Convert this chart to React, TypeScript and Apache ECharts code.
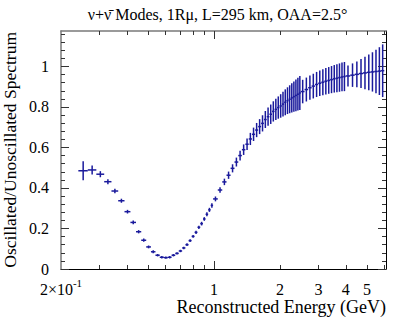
import React, { useEffect, useRef } from "react";
import * as echarts from "echarts";

// Bin edges in reconstructed energy (GeV)
const binEdges = [
  0.24, 0.265, 0.29, 0.315, 0.34, 0.365, 0.39, 0.415, 0.44, 0.465, 0.49, 0.515, 0.54, 0.565, 0.59, 0.615,
  0.64, 0.665, 0.69, 0.715, 0.74, 0.765, 0.79, 0.815, 0.84, 0.865, 0.89, 0.915, 0.94, 0.965, 0.99,
  1.04, 1.09, 1.14, 1.19, 1.24, 1.29, 1.34, 1.39, 1.44, 1.49, 1.54, 1.59, 1.64, 1.69, 1.74, 1.79, 1.84,
  1.89, 1.94, 1.99, 2.04, 2.09, 2.14, 2.19, 2.24, 2.29, 2.34, 2.39, 2.44, 2.49,
  2.59, 2.69, 2.79, 2.89, 2.99, 3.09, 3.19, 3.29, 3.39, 3.49, 3.59, 3.69, 3.79, 3.89, 3.99,
  4.19, 4.39, 4.59, 4.79, 4.99, 5.19, 5.39, 5.59, 5.79, 5.99,
];

// Oscillated / unoscillated ratio per bin
const ratioValues = [
  0.485, 0.489, 0.468, 0.431, 0.385, 0.337, 0.283, 0.23, 0.184, 0.142, 0.109, 0.085, 0.068, 0.058, 0.056,
  0.058, 0.068, 0.077, 0.089, 0.104, 0.12, 0.14, 0.161, 0.181, 0.206, 0.224, 0.247, 0.27, 0.292, 0.314,
  0.346, 0.39, 0.43, 0.463, 0.497, 0.528, 0.56, 0.589, 0.616, 0.642, 0.665, 0.686, 0.703, 0.719, 0.738,
  0.752, 0.764, 0.778, 0.788, 0.797, 0.805, 0.814, 0.823, 0.831, 0.838, 0.845, 0.851, 0.857, 0.863, 0.869,
  0.876, 0.886, 0.895, 0.903, 0.911, 0.917, 0.922, 0.927, 0.931, 0.935, 0.939, 0.942, 0.945, 0.948, 0.95,
  0.953, 0.957, 0.961, 0.965, 0.968, 0.971, 0.973, 0.975, 0.977, 0.979,
];

// Statistical error (half length of vertical bar)
const ratioErrors = [
  0.047, 0.022, 0.015, 0.012, 0.011, 0.01, 0.009, 0.009, 0.008, 0.008, 0.007, 0.007, 0.006, 0.006, 0.006,
  0.006, 0.006, 0.006, 0.006, 0.006, 0.007, 0.007, 0.007, 0.008, 0.008, 0.009, 0.009, 0.01, 0.01, 0.011,
  0.012, 0.014, 0.016, 0.018, 0.02, 0.022, 0.024, 0.026, 0.028, 0.03, 0.033, 0.035, 0.037, 0.04, 0.042,
  0.045, 0.048, 0.05, 0.053, 0.055, 0.058, 0.061, 0.064, 0.066, 0.069, 0.072, 0.075, 0.078, 0.081, 0.084,
  0.058, 0.059, 0.06, 0.061, 0.062, 0.063, 0.064, 0.065, 0.066, 0.067, 0.068, 0.069, 0.07, 0.071, 0.072,
  0.052, 0.058, 0.064, 0.072, 0.08, 0.088, 0.097, 0.107, 0.118, 0.13,
];

const xLabelTicks = [0.2, 1, 2, 3, 4, 5];
const xLongTicks = [1];
const xShortTicks = [0.3, 0.4, 0.5, 0.6, 0.7, 0.8, 0.9, 2, 3, 4, 5, 6];
const yMajorTicks = [0, 0.2, 0.4, 0.6, 0.8, 1];
const yMinorTicks = [
  0.04, 0.08, 0.12, 0.16, 0.24, 0.28, 0.32, 0.36, 0.44, 0.48, 0.52, 0.56, 0.64, 0.68, 0.72, 0.76, 0.84,
  0.88, 0.92, 0.96, 1.04, 1.08, 1.12, 1.16,
];

const X_MIN = 0.2;
const X_MAX = 6.1;
const Y_MIN = 0;
const Y_MAX = 1.175;

const TITLE = "\u03bd+\u03bd\u0304 Modes, 1R\u03bc, L=295 km, OAA=2.5\u00b0";
const X_TITLE = "Reconstructed Energy (GeV)";
const Y_TITLE = "Oscillated/Unoscillated Spectrum";

const FONT = "Liberation Serif";
const MARK_COLOR = "#1a1a9c";

const lg = (e: number) => Math.log10(e);

export default function App() {
  const ref = useRef<HTMLDivElement>(null);

  useEffect(() => {
    if (!ref.current) return;
    const chart = echarts.init(ref.current, undefined, { renderer: "svg" });

    const data = ratioValues.map((v, i) => {
      const lo = binEdges[i];
      const hi = binEdges[i + 1];
      return [lg(lo), lg(hi), v, ratioErrors[i], lg((lo + hi) / 2)];
    });

    const tickStyle = { color: "#333", width: 1 };
    const xBase = (position: string) => ({
      type: "value",
      position,
      min: lg(X_MIN),
      max: lg(X_MAX),
      splitLine: { show: false },
    });
    const yBase = (position: string) => ({
      type: "value",
      position,
      min: Y_MIN,
      max: Y_MAX,
      splitLine: { show: false },
    });

    const xLabelFormatter = (val: number) => {
      const e = Math.pow(10, val);
      if (e < 0.5) return "{m|2\u00d710}{s|-1}";
      return "{m|" + Math.round(e) + "}";
    };

    const option: any = {
      animation: false,
      backgroundColor: "#fff",
      grid: {
        left: 61,
        right: 21,
        top: 31,
        bottom: 53,
        containLabel: false,
        outerBoundsMode: "none",
      },
      xAxis: [
        {
          ...xBase("bottom"),
          axisLine: { show: true, onZero: false, lineStyle: { color: "#000", width: 1 } },
          axisTick: { show: true, inside: true, length: 8, customValues: xLongTicks.map(lg), lineStyle: tickStyle },
          axisLabel: {
            show: true,
            customValues: xLabelTicks.map(lg),
            formatter: xLabelFormatter,
            margin: 8,
            rich: {
              m: { fontFamily: FONT, fontSize: 16, color: "#000", verticalAlign: "bottom", lineHeight: 20 },
              s: { fontFamily: FONT, fontSize: 11, color: "#000", verticalAlign: "top", lineHeight: 11 },
            },
          },
        },
        {
          ...xBase("bottom"),
          axisLine: { show: false, onZero: false },
          axisTick: { show: true, inside: true, length: 4, customValues: xShortTicks.map(lg), lineStyle: tickStyle },
          axisLabel: { show: false },
        },
        {
          ...xBase("top"),
          axisLine: { show: true, onZero: false, lineStyle: { color: "#7a7a7a", width: 1.5 } },
          axisTick: { show: true, inside: true, length: 8, customValues: xLongTicks.map(lg), lineStyle: tickStyle },
          axisLabel: { show: false },
        },
        {
          ...xBase("top"),
          axisLine: { show: false, onZero: false },
          axisTick: { show: true, inside: true, length: 4, customValues: xShortTicks.map(lg), lineStyle: tickStyle },
          axisLabel: { show: false },
        },
      ],
      yAxis: [
        {
          ...yBase("left"),
          axisLine: { show: true, onZero: false, lineStyle: { color: "#7a7a7a", width: 1.5 } },
          axisTick: { show: true, inside: true, length: 8, customValues: yMajorTicks, lineStyle: tickStyle },
          axisLabel: {
            show: true,
            customValues: yMajorTicks,
            margin: 12,
            fontFamily: FONT,
            fontSize: 16,
            color: "#000",
            formatter: (v: number) => String(Math.round(v * 10) / 10),
          },
        },
        {
          ...yBase("left"),
          axisLine: { show: false, onZero: false },
          axisTick: { show: true, inside: true, length: 4, customValues: yMinorTicks, lineStyle: tickStyle },
          axisLabel: { show: false },
        },
        {
          ...yBase("right"),
          axisLine: { show: true, onZero: false, lineStyle: { color: "#000", width: 1 } },
          axisTick: { show: true, inside: true, length: 8, customValues: yMajorTicks, lineStyle: tickStyle },
          axisLabel: { show: false },
        },
        {
          ...yBase("right"),
          axisLine: { show: false, onZero: false },
          axisTick: { show: true, inside: true, length: 4, customValues: yMinorTicks, lineStyle: tickStyle },
          axisLabel: { show: false },
        },
      ],
      series: [
        {
          type: "custom",
          xAxisIndex: 0,
          yAxisIndex: 0,
          clip: true,
          encode: { x: [0, 1, 4], y: [2] },
          data,
          renderItem: (_params: any, api: any) => {
            const lo = api.value(0);
            const hi = api.value(1);
            const v = api.value(2);
            const e = api.value(3);
            const c = api.value(4);
            const a = api.coord([lo, v]);
            const b = api.coord([hi, v]);
            const t = api.coord([c, v + e]);
            const d = api.coord([c, v - e]);
            const style = { stroke: MARK_COLOR, lineWidth: 1.5, fill: null };
            return {
              type: "group",
              children: [
                { type: "line", shape: { x1: a[0], y1: a[1], x2: b[0], y2: b[1] }, style },
                { type: "line", shape: { x1: t[0], y1: t[1], x2: d[0], y2: d[1] }, style },
              ],
            };
          },
        },
      ],
      graphic: [
        {
          type: "text",
          x: 217.5,
          y: 14,
          style: {
            text: TITLE,
            fontFamily: FONT,
            fontSize: 16,
            fill: "#000",
            textAlign: "center",
            textVerticalAlign: "middle",
          },
        },
        {
          type: "text",
          x: 386,
          y: 307,
          style: {
            text: X_TITLE,
            fontFamily: FONT,
            fontSize: 18,
            fill: "#000",
            textAlign: "right",
            textVerticalAlign: "middle",
          },
        },
        {
          type: "text",
          x: 10,
          y: 32,
          rotation: Math.PI / 2,
          style: {
            text: Y_TITLE,
            fontFamily: FONT,
            fontSize: 17.5,
            fill: "#000",
            textAlign: "right",
            textVerticalAlign: "middle",
          },
        },
      ],
    };

    chart.setOption(option);
    return () => chart.dispose();
  }, []);

  return (
    <div
      ref={ref}
      style={{ position: "fixed", left: 0, top: 0, width: 407, height: 322, background: "#fff" }}
    />
  );
}
